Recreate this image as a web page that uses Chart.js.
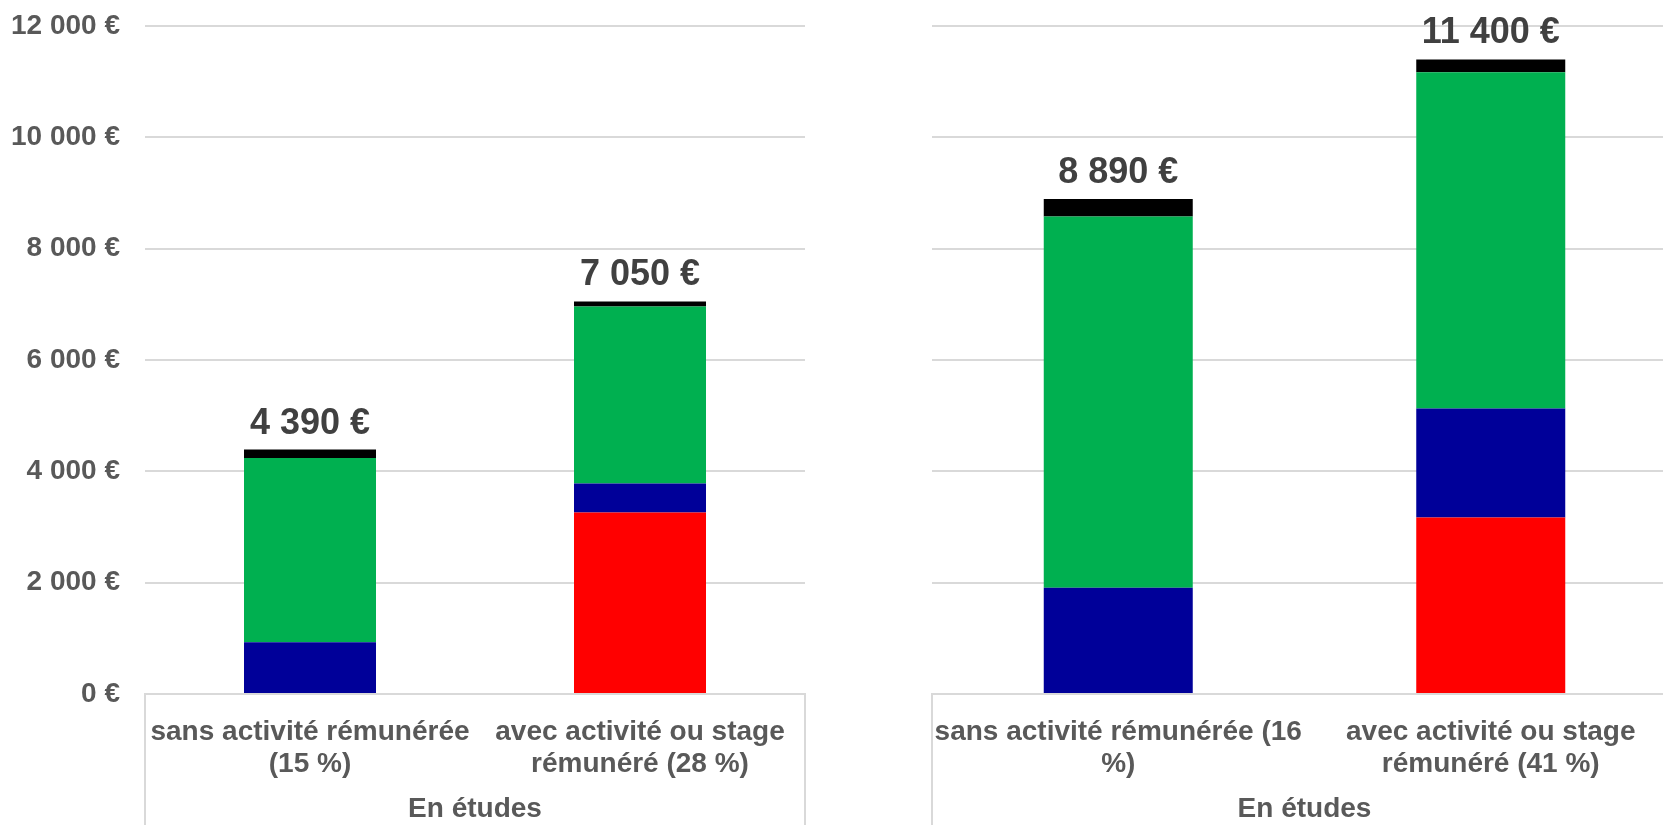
<!DOCTYPE html>
<html lang="fr">
<head>
<meta charset="utf-8">
<title>Ressources annuelles</title>
<script src="https://cdn.jsdelivr.net/npm/chart.js@4/dist/chart.umd.min.js"></script>
<style>
  html, body { margin: 0; padding: 0; background: #fff; overflow: hidden; }
  #wrap { position: relative; width: 1663px; height: 825px; overflow: hidden; }
  .panel { position: absolute; top: 0; height: 825px; }
  #left { left: 0; width: 860px; }
  #right { left: 860px; width: 820px; }
</style>
</head>
<body>
<div id="wrap">
  <div class="panel" id="left"><canvas id="chartLeft"></canvas></div>
  <div class="panel" id="right"><canvas id="chartRight"></canvas></div>
</div>
<script>
// valeurs (en euros)
const yTicks = [0, 2000, 4000, 6000, 8000, 10000, 12000];
const groupLabel = 'En études';

const leftCategories = [['sans activité rémunérée', '(15 %)'], ['avec activité ou stage', 'rémunéré (28 %)']];
const rightCategories = [['sans activité rémunérée (16', '%)'], ['avec activité ou stage', 'rémunéré (41 %)']];

const seriesNames = ["Revenus d'activité", 'Aides publiques', 'Aide familiale', 'Autres ressources'];
const seriesColors = ['#FF0000', '#000099', '#00B050', '#000000'];

const leftActivite = [0, 3260];
const leftAides = [930, 520];
const leftFamille = [3310, 3180];
const leftAutres = [150, 90];
const leftTotals = [4390, 7050];

const rightActivite = [0, 3170];
const rightAides = [1910, 1960];
const rightFamille = [6670, 6040];
const rightAutres = [310, 230];
const rightTotals = [8890, 11400];

const FONT = '"Liberation Sans", Arial, sans-serif';
const GRID = '#D9D9D9';

function fmt(n) {
  return String(n).replace(/\B(?=(\d{3})+(?!\d))/g, ' ');
}

function totalsPlugin(totals) {
  return {
    id: 'totals',
    afterDatasetsDraw(chart) {
      const ctx = chart.ctx;
      const top = chart.getDatasetMeta(chart.data.datasets.length - 1);
      ctx.save();
      ctx.font = 'bold 36px ' + FONT;
      ctx.fillStyle = '#404040';
      ctx.textAlign = 'center';
      ctx.textBaseline = 'middle';
      top.data.forEach((bar, i) => {
        ctx.fillText(fmt(totals[i]) + ' €', bar.x, bar.y - 26);
      });
      ctx.restore();
    }
  };
}

// cadre gris autour des libellés de l'axe des catégories
const boxPlugin = {
  id: 'catBox',
  afterDraw(chart) {
    const { ctx, chartArea } = chart;
    ctx.save();
    ctx.strokeStyle = GRID;
    ctx.lineWidth = 2;
    ctx.beginPath();
    [chartArea.left, chartArea.right].forEach(x => {
      ctx.moveTo(x, chartArea.bottom);
      ctx.lineTo(x, chart.height);
    });
    ctx.stroke();
    ctx.restore();
  }
};

function buildChart(id, categories, series, totals, showY, padding) {
  const ctx = document.getElementById(id).getContext('2d');
  return new Chart(ctx, {
    type: 'bar',
    data: {
      labels: categories,
      datasets: series.map((vals, i) => ({
        label: seriesNames[i],
        data: vals,
        backgroundColor: seriesColors[i],
        borderWidth: 0,
        categoryPercentage: 1,
        barPercentage: 0.4
      }))
    },
    options: {
      responsive: true,
      maintainAspectRatio: false,
      animation: false,
      layout: { padding: padding },
      plugins: {
        legend: { display: false },
        tooltip: { enabled: false }
      },
      scales: {
        x: {
          stacked: true,
          grid: { display: false },
          border: { display: true, color: GRID, width: 2 },
          ticks: {
            autoSkip: false,
            maxRotation: 0,
            padding: 15,
            color: '#595959',
            font: { family: FONT, size: 28, weight: 'bold', lineHeight: 1.12 }
          },
          title: {
            display: true,
            text: groupLabel,
            color: '#595959',
            font: { family: FONT, size: 28, weight: 'bold', lineHeight: 1.12 },
            padding: { top: 0, bottom: 0 }
          },
          afterFit: s => { s.height = 131; }
        },
        y: {
          stacked: true,
          min: 0,
          max: 12000,
          afterBuildTicks: s => { s.ticks = yTicks.map(v => ({ value: v })); },
          grid: { color: GRID, lineWidth: 2, drawTicks: false },
          border: { display: false },
          ticks: {
            display: showY,
            padding: 25,
            color: '#595959',
            font: { family: FONT, size: 28, weight: 'bold' },
            callback: v => fmt(v) + ' €'
          },
          afterFit: s => {
            s.width = showY ? 145 : 0;
            s.paddingTop = 0;
            s.paddingBottom = 0;
          }
        }
      }
    },
    plugins: [totalsPlugin(totals), boxPlugin]
  });
}

buildChart('chartLeft', leftCategories,
  [leftActivite, leftAides, leftFamille, leftAutres], leftTotals, true,
  { top: 26, left: 0, right: 55, bottom: 0 });

buildChart('chartRight', rightCategories,
  [rightActivite, rightAides, rightFamille, rightAutres], rightTotals, false,
  { top: 26, left: 72, right: 3, bottom: 0 });
</script>
</body>
</html>
